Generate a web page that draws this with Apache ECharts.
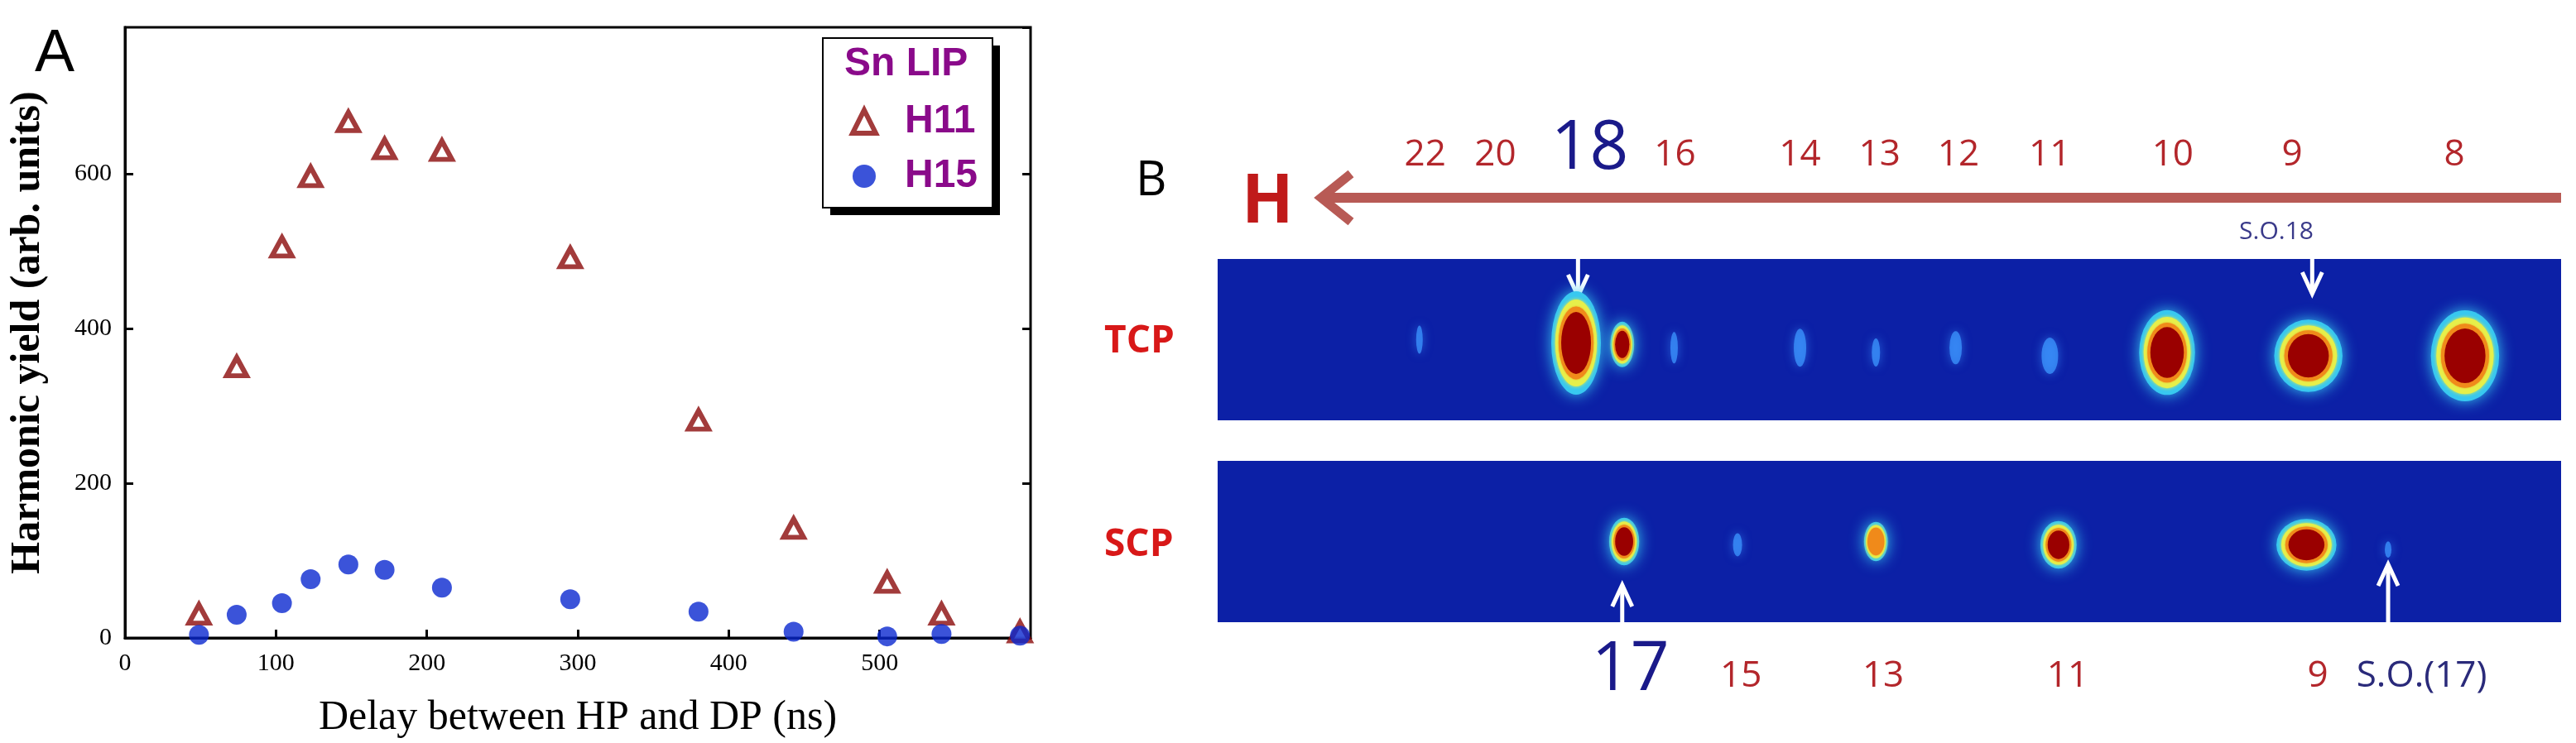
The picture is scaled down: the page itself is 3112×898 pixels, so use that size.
<!DOCTYPE html>
<html>
<head>
<meta charset="utf-8">
<script src="https://cdn.jsdelivr.net/npm/echarts@6/dist/echarts.min.js"></script>
<style>html,body{margin:0;padding:0;background:#fff;}#main{width:3112px;height:898px;}</style>
</head>
<body>
<div id="main"></div>
<script>
// panel A: harmonic yield vs delay
const delayH11 = [49, 74, 104, 123, 148, 172, 210, 295, 380, 443, 505, 541, 593];
const yieldH11 = [31, 351, 506, 597, 668, 633, 631, 492, 282, 142, 72, 31, 8];
const delayH15 = [49, 74, 104, 123, 148, 172, 210, 295, 380, 443, 505, 541, 593];
const yieldH15 = [4, 30, 45, 76, 95, 88, 65, 50, 34, 8, 2, 5, 3];

// panel B: spot positions along the detector (px), vertical position (0..1), size [w,h], level 0 faint / 1 medium / 2 saturated
const tcpX = [357, 520, 568, 622, 753, 832, 915, 1013, 1135, 1282, 1445];
const tcpY = [0.5, 0.52, 0.53, 0.55, 0.55, 0.58, 0.55, 0.6, 0.58, 0.6, 0.6];
const tcpW = [8, 48, 23, 9, 15, 10, 15, 20, 54, 66, 66];
const tcpH = [34, 100, 44, 38, 46, 34, 40, 44, 82, 70, 88];
const tcpLevel = [0, 2, 2, 0, 0, 0, 0, 0, 2, 2, 2];
const scpX = [570, 688, 832, 1022, 1280, 1365];
const scpY = [0.5, 0.52, 0.5, 0.52, 0.52, 0.55];
const scpW = [29, 11, 23, 35, 58, 8];
const scpH = [46, 28, 38, 46, 50, 20];
const scpLevel = [2, 0, 1, 2, 2, 0];
const topLabels = ['22', '20', '18', '16', '14', '13', '12', '11', '10', '9', '8'];
const topLabelX = [355, 428, 518, 615, 745, 828, 910, 1005, 1133, 1268, 1437];
const bottomLabels = ['17', '15', '13', '11', '9'];
const bottomLabelX = [562, 682, 830, 1022, 1293];

const chart = echarts.init(document.getElementById('main'));
const bx0 = 1471, bx1 = 3094; // panel B image extents in px
const toPx = v => bx0 + (v - 147) / (1545 - 147) * (bx1 - bx0);

function spotLayers(xs, ys, ws, hs, lv, grid) {
  const layers = [
    {lev: 0, f: 1.0, color: 'rgba(60,150,255,0.75)', blur: 12},
    {lev: 1, f: 1.25, color: '#38c8f0', blur: 18},
    {lev: 1, f: 1.05, color: '#e6ef4a', blur: 4},
    {lev: 1, f: 0.88, color: '#f08a1a', blur: 2},
    {lev: 2, f: 0.75, color: '#9a0000', blur: 0}
  ];
  return layers.map(l => ({
    type: 'scatter', xAxisIndex: grid + 1, yAxisIndex: grid + 2, silent: true,
    data: xs.map((x, i) => ({value: [x, ys[i]], symbolSize: [ws[i] * l.f, hs[i] * l.f],
      itemStyle: {opacity: (l.lev === 0 ? lv[i] === 0 : lv[i] >= l.lev) ? 1 : 0}})),
    symbol: 'circle',
    itemStyle: {color: l.color, shadowBlur: l.blur, shadowColor: l.color}
  }));
}

const serif = 'Liberation Serif';
const texts = [];
topLabels.forEach((t, i) => texts.push({type: 'text', left: toPx(topLabelX[i]) - (t === '18' ? 28 : 16), top: t === '18' ? 140 : 165,
  style: {text: t, fill: t === '18' ? '#1a1a8a' : '#b3262b', font: (t === '18' ? '82px' : '44px') + ' "Open Sans"'}}));
bottomLabels.forEach((t, i) => texts.push({type: 'text', left: toPx(bottomLabelX[i]) - (t === '17' ? 30 : 14), top: t === '17' ? 770 : 795,
  style: {text: t, fill: t === '17' ? '#1a1a8a' : '#b3262b', font: (t === '17' ? '82px' : '44px') + ' "Open Sans"'}}));

function arrow(x, y0, y1) {
  const d = y1 > y0 ? 1 : -1;
  return [
    {type: 'line', shape: {x1: x, y1: y0, x2: x, y2: y1}, style: {stroke: '#fff', lineWidth: 5}},
    {type: 'polyline', shape: {points: [[x - 12, y1 - d * 26], [x, y1], [x + 12, y1 - d * 26]]}, style: {stroke: '#fff', lineWidth: 5, fill: null}}
  ];
}

chart.setOption({
  animation: false,
  grid: [
    {left: 151, right: 3112 - 1245, top: 33, bottom: 125, show: true, borderColor: '#000', borderWidth: 3, backgroundColor: '#fff'},
    {left: bx0, right: 3112 - bx1, top: 313, bottom: 898 - 508, show: true, backgroundColor: '#0c20a6', borderWidth: 0},
    {left: bx0, right: 3112 - bx1, top: 557, bottom: 898 - 752, show: true, backgroundColor: '#0c20a6', borderWidth: 0}
  ],
  xAxis: [
    {type: 'value', gridIndex: 0, min: 0, max: 600, interval: 100, name: 'Delay between HP and DP (ns)', nameLocation: 'middle', nameGap: 72,
      nameTextStyle: {fontFamily: serif, fontSize: 50, color: '#000'},
      axisLine: {lineStyle: {color: '#000', width: 3}}, axisTick: {inside: true, length: 10, lineStyle: {width: 3, color: '#000'}},
      axisLabel: {fontFamily: serif, fontSize: 30, color: '#000', margin: 16, showMaxLabel: false}, splitLine: {show: false}},
    {type: 'value', gridIndex: 1, min: 147, max: 1545, show: false},
    {type: 'value', gridIndex: 2, min: 147, max: 1545, show: false}
  ],
  yAxis: [
    {type: 'value', gridIndex: 0, min: 0, max: 790, interval: 200, name: 'Harmonic yield (arb. units)', nameLocation: 'middle', nameGap: 92,
      nameTextStyle: {fontFamily: serif, fontSize: 50, fontWeight: 'bold', color: '#000'},
      axisLine: {lineStyle: {color: '#000', width: 3}}, axisTick: {inside: true, length: 10, lineStyle: {width: 3, color: '#000'}},
      axisLabel: {fontFamily: serif, fontSize: 30, color: '#000', margin: 16, showMaxLabel: false}, splitLine: {show: false}},
    {type: 'value', gridIndex: 0, position: 'right', min: 0, max: 790, interval: 200,
      axisLine: {show: false}, axisTick: {inside: true, length: 10, lineStyle: {width: 3, color: '#000'}}, axisLabel: {show: false}, splitLine: {show: false}},
    {type: 'value', gridIndex: 1, min: 0, max: 1, inverse: true, show: false},
    {type: 'value', gridIndex: 2, min: 0, max: 1, inverse: true, show: false}
  ],
  legend: {orient: 'vertical', left: 1022, top: 118, itemGap: 18, itemWidth: 28, itemHeight: 28,
    textStyle: {fontFamily: 'Liberation Sans', fontWeight: 'bold', fontSize: 48, color: '#8a0a8a', padding: [0, 0, 0, 30]},
    data: [{name: 'H11', itemStyle: {color: '#fff', borderColor: '#8b0a0a', borderWidth: 6}}, 'H15']},
  series: [
    {name: 'H11', type: 'scatter', symbol: 'triangle', symbolSize: [24, 22], data: delayH11.map((x, i) => [x, yieldH11[i]]),
      itemStyle: {color: '#fff', borderColor: '#8b0a0a', borderWidth: 6}},
    {name: 'H15', type: 'scatter', symbol: 'circle', symbolSize: [24, 24], data: delayH15.map((x, i) => [x, yieldH15[i]]),
      itemStyle: {color: '#0a28d0'}},
    ...spotLayers(tcpX, tcpY, tcpW, tcpH, tcpLevel, 0),
    ...spotLayers(scpX, scpY, scpW, scpH, scpLevel, 2).map(s => Object.assign(s, {xAxisIndex: 2, yAxisIndex: 3}))
  ],
  graphic: [
    {type: 'rect', shape: {x: 1003, y: 55, width: 205, height: 205}, style: {fill: '#000'}},
    {type: 'rect', shape: {x: 994, y: 46, width: 205, height: 205}, style: {fill: '#fff', stroke: '#000', lineWidth: 2}},
    {type: 'text', left: 1020, top: 54, style: {text: 'Sn LIP', fill: '#8a0a8a', font: 'bold 48px "Liberation Sans"'}},
    {type: 'text', left: 42, top: 30, style: {text: 'A', fill: '#000', font: '72px "Liberation Sans"'}},
    {type: 'text', left: 1372, top: 190, style: {text: 'B', fill: '#000', font: '58px "Open Sans"'}},
    {type: 'text', left: 1500, top: 205, style: {text: 'H', fill: '#c01a1a', font: 'bold 82px "Open Sans"'}},
    {type: 'line', shape: {x1: 1600, y1: 239, x2: 3094, y2: 239}, style: {stroke: '#b85a55', lineWidth: 12}},
    {type: 'polyline', shape: {points: [[1632, 210], [1596, 239], [1632, 268]]}, style: {stroke: '#b85a55', lineWidth: 11, fill: null}},
    {type: 'text', left: 1334, top: 390, style: {text: 'TCP', fill: '#d81818', font: 'bold 46px "Open Sans"'}},
    {type: 'text', left: 1334, top: 636, style: {text: 'SCP', fill: '#d81818', font: 'bold 46px "Open Sans"'}},
    {type: 'text', left: toPx(1210), top: 265, style: {text: 'S.O.18', fill: '#3a3a8a', font: '30px "Open Sans"'}},
    {type: 'text', left: toPx(1332), top: 795, style: {text: 'S.O.(17)', fill: '#2a2a7a', font: '44px "Open Sans"'}},
    ...arrow(toPx(522), 313, 358),
    ...arrow(toPx(1286), 313, 355),
    ...arrow(toPx(568), 752, 707),
    ...arrow(toPx(1365), 752, 682),
    ...texts
  ]
});
</script>
</body>
</html>
